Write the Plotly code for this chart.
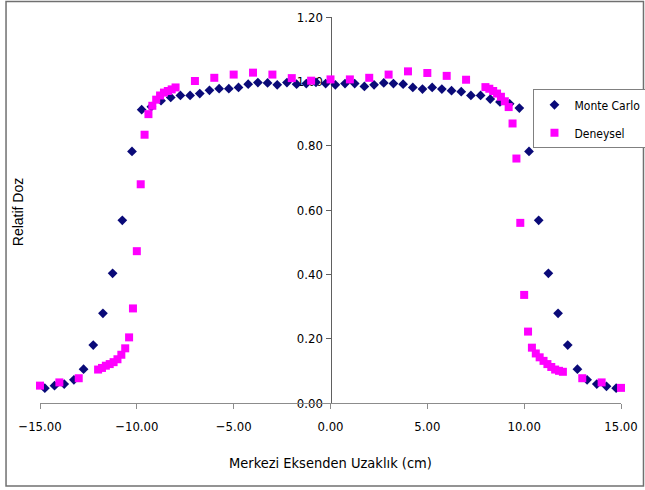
import plotly.graph_objects as go

# Monte Carlo (diamonds)
mc_x = [-14.75, -14.25, -13.75, -13.25, -12.75, -12.25, -11.75, -11.25, -10.75, -10.25,
        -9.75, -9.25, -8.75, -8.25, -7.75, -7.25, -6.75, -6.25, -5.75, -5.25,
        -4.75, -4.25, -3.75, -3.25, -2.75, -2.25, -1.75, -1.25, -0.75, -0.25,
        0.25, 0.75, 1.25, 1.75, 2.25, 2.75, 3.25, 3.75, 4.25, 4.75,
        5.25, 5.75, 6.25, 6.75, 7.25, 7.75, 8.25, 8.75, 9.25, 9.75,
        10.25, 10.75, 11.25, 11.75, 12.25, 12.75, 13.25, 13.75, 14.25, 14.75]
mc_y = [0.046, 0.054, 0.059, 0.072, 0.105, 0.180, 0.279, 0.403, 0.568, 0.782,
        0.912, 0.921, 0.940, 0.950, 0.956, 0.956, 0.962, 0.972, 0.977, 0.977,
        0.981, 0.991, 0.996, 0.995, 0.989, 0.996, 0.991, 0.993, 0.997, 0.993,
        0.989, 0.993, 0.993, 0.984, 0.989, 0.995, 0.993, 0.991, 0.981, 0.976,
        0.981, 0.976, 0.971, 0.968, 0.956, 0.956, 0.945, 0.936, 0.930, 0.917,
        0.782, 0.568, 0.403, 0.279, 0.180, 0.105, 0.072, 0.059, 0.052, 0.046]

# Deneysel (squares)
dn_x = [-15.0, -14.0, -13.0, -12.0, -11.8, -11.6, -11.4, -11.2, -11.0, -10.8,
        -10.6, -10.4, -10.2, -10.0, -9.8, -9.6, -9.4, -9.2, -9.0, -8.8,
        -8.6, -8.4, -8.2, -8.0, -7.0, -6.0, -5.0, -4.0, -3.0, -2.0,
        -1.0, 0.0, 1.0, 2.0, 3.0, 4.0, 5.0, 6.0, 7.0, 8.0,
        8.2, 8.4, 8.6, 8.8, 9.0, 9.2, 9.4, 9.6, 9.8, 10.0,
        10.2, 10.4, 10.6, 10.8, 11.0, 11.2, 11.4, 11.6, 11.8, 12.0,
        13.0, 14.0, 15.0]
dn_y = [0.054, 0.064, 0.077, 0.104, 0.109, 0.116, 0.121, 0.127, 0.136, 0.150,
        0.170, 0.204, 0.294, 0.472, 0.680, 0.834, 0.898, 0.924, 0.943, 0.956,
        0.965, 0.970, 0.975, 0.981, 1.001, 1.011, 1.021, 1.027, 1.021, 1.010,
        1.002, 1.006, 1.006, 1.011, 1.021, 1.031, 1.026, 1.017, 1.005, 0.982,
        0.977, 0.970, 0.962, 0.952, 0.938, 0.920, 0.869, 0.760, 0.560, 0.336,
        0.222, 0.172, 0.154, 0.142, 0.131, 0.121, 0.112, 0.104, 0.100, 0.097,
        0.077, 0.064, 0.047]

x_ticks = [-15, -10, -5, 0, 5, 10, 15]
y_ticks = [0.0, 0.2, 0.4, 0.6, 0.8, 1.0, 1.2]

NARROW = "DejaVu Sans Condensed, Liberation Sans Narrow, sans-serif"

fig = go.Figure()
fig.add_trace(go.Scatter(
    x=mc_x, y=mc_y, mode="markers", name="Monte Carlo", legendgroup="a",
    marker=dict(symbol="diamond", size=7.5, color="#0a0a78"), cliponaxis=False))
fig.add_trace(go.Scatter(
    x=dn_x, y=dn_y, mode="markers", name="Deneysel", legendgroup="b",
    marker=dict(symbol="square", size=8, color="#ff00ff"), cliponaxis=False))

L, R, T, B = 40, 23.5, 16.6, 87
W, H = 645, 490
pw, ph = W - L - R, H - T - B

def px(xp):
    return (xp - L) / pw

def py(yp):
    return (H - B - yp) / ph

fig.update_layout(
    width=W, height=H,
    margin=dict(l=L, r=R, t=T, b=B, pad=0, autoexpand=False),
    paper_bgcolor="white", plot_bgcolor="white",
    font=dict(family=NARROW, size=13, color="#000"),
    showlegend=True,
    legend=dict(x=px(647), y=py(89), xanchor="right", yanchor="top",
                bgcolor="white", bordercolor="#808080", borderwidth=1,
                font=dict(family=NARROW, size=12, color="#000"),
                tracegroupgap=9, traceorder="grouped"),
    xaxis=dict(range=[-15, 15], tickvals=x_ticks, tickformat=".2f",
               showline=True, linecolor="#8c8c8c", linewidth=1,
               ticks="outside", ticklen=5, tickcolor="#8c8c8c",
               showgrid=False, zeroline=False, automargin=False,
               ticklabelstandoff=6,
               tickfont=dict(family=NARROW, size=13)),
    yaxis=dict(range=[0, 1.2], tickvals=y_ticks, tickformat=".2f",
               anchor="free", position=0.5, automargin=False,
               showline=True, linecolor="#606060", linewidth=1,
               ticks="outside", ticklen=5, tickcolor="#606060",
               showgrid=False, zeroline=False, layer="below traces",
               tickfont=dict(family=NARROW, size=13)),
    shapes=[dict(type="rect", xref="paper", yref="paper",
                 x0=px(6), x1=px(644), y0=py(486), y1=py(1),
                 line=dict(color="#707070", width=1.5), fillcolor="rgba(0,0,0,0)",
                 layer="below")],
    annotations=[
        dict(text="Relatif Doz", xref="paper", yref="paper", x=px(18), y=py(212),
             textangle=-90, showarrow=False, xanchor="center", yanchor="middle",
             font=dict(family="Liberation Sans, Arial, sans-serif", size=14, color="#000")),
        dict(text="Merkezi Eksenden Uzaklık (cm)", xref="paper", yref="paper",
             x=px(331), y=py(463), showarrow=False, xanchor="center", yanchor="middle",
             font=dict(family=NARROW, size=14.5, color="#000")),
    ],
)

fig.write_html("out.html")
